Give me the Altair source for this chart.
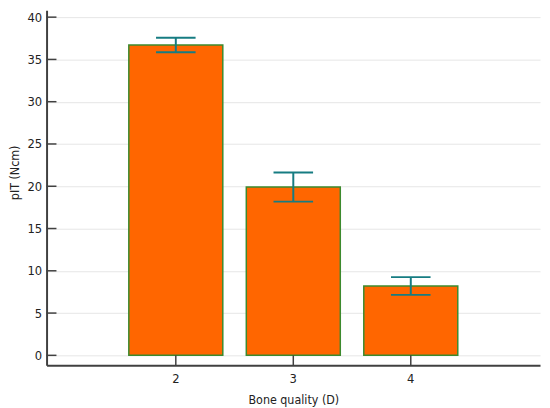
import altair as alt
import pandas as pd

categories = ["2", "3", "4"]
means = [36.7, 19.9, 8.2]
errs = [0.85, 1.72, 1.05]
y_ticks = [0, 5, 10, 15, 20, 25, 30, 35, 40]

df = pd.DataFrame({"quality": categories, "mean": means, "err": errs})
df["lo"] = df["mean"] - df["err"]
df["hi"] = df["mean"] + df["err"]
ytick_df = pd.DataFrame({"v": y_ticks, "quality": ["2"] * len(y_ticks)})

AXIS_COLOR = "#404040"
ERR_COLOR = "#167C82"
FONT = "DejaVu Sans Condensed, DejaVu Sans"

xscale = alt.Scale(paddingInner=0.2, paddingOuter=0.7)
yscale = alt.Scale(domain=[-1.17, 40.82], nice=False, zero=False)

xaxis = alt.Axis(labelAngle=0, ticks=False, labelPadding=7, titlePadding=9,
                 domainWidth=2, domainColor=AXIS_COLOR, grid=False)
yaxis = alt.Axis(values=y_ticks, ticks=False, labelPadding=5, titleX=-25,
                 titleY=164, grid=True, gridColor="#e6e6e6", domainWidth=2,
                 domainColor=AXIS_COLOR)
XT = "Bone quality (D)"
YT = "pIT (Ncm)"


def xenc():
    return alt.X("quality:N", scale=xscale, sort=categories, axis=xaxis, title=XT)


def yenc(field):
    return alt.Y(field, scale=yscale, axis=yaxis, title=YT)


bars = alt.Chart(df).mark_bar(color="#FF6600", stroke="#3C8A2E", strokeWidth=1.5).encode(
    x=xenc(), y=yenc("mean:Q"), y2=alt.datum(0),
)

stems = alt.Chart(df).mark_rule(color=ERR_COLOR, strokeWidth=2, opacity=1).encode(
    x=xenc(), y=yenc("lo:Q"), y2="hi:Q",
)
caps_hi = alt.Chart(df).mark_tick(color=ERR_COLOR, thickness=2, size=40, opacity=1).encode(
    x=xenc(), y=yenc("hi:Q"),
)
caps_lo = alt.Chart(df).mark_tick(color=ERR_COLOR, thickness=2, size=40, opacity=1).encode(
    x=xenc(), y=yenc("lo:Q"),
)

yticks = alt.Chart(ytick_df).mark_rule(color=AXIS_COLOR, strokeWidth=1.5).encode(
    y=yenc("v:Q"),
    x=alt.value(0),
    x2=alt.value(10),
)
xticks = alt.Chart(df).mark_rule(color=AXIS_COLOR, strokeWidth=1.5).encode(
    x=xenc(),
    y=alt.value(359),
    y2=alt.value(349),
)

chart = alt.layer(bars, stems, caps_hi, caps_lo, yticks, xticks).properties(
    width=499,
    height=359,
    autosize=alt.AutoSizeParams(type="none"),
    padding={"left": 39, "top": 0, "right": 2, "bottom": 40},
).configure_view(stroke=None).configure_axis(
    labelFont=FONT, titleFont=FONT,
    labelFontSize=13, titleFontSize=12.5, titleFontWeight="normal",
    labelColor="#222222", titleColor="#222222",
)

chart.save("out.html", embed_options={"renderer": "svg", "actions": False})
